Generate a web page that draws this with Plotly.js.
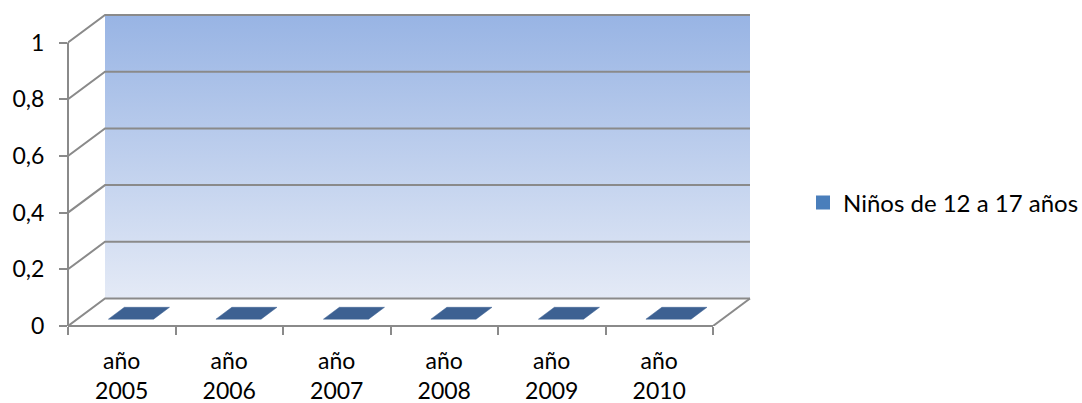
<!DOCTYPE html>
<html><head><meta charset="utf-8">
<script src="https://cdn.plot.ly/plotly-3.0.1.min.js"></script>
<style>html,body{margin:0;padding:0;background:#fff}#chart{width:1082px;height:403px}</style>
</head><body><div id="chart"></div>
<script>
// ---- data ----
const categories = ['año 2005', 'año 2006', 'año 2007', 'año 2008', 'año 2009', 'año 2010'];
const tickLabels = ['año<br>2005', 'año<br>2006', 'año<br>2007', 'año<br>2008', 'año<br>2009', 'año<br>2010'];
const seriesName = 'Niños de 12 a 17 años';
const values = [0, 0, 0, 0, 0, 0];
const yTickVals = [0, 0.2, 0.4, 0.6, 0.8, 1];

// ---- geometry (pixels) ----
const W = 1082, H = 403;
const plotL = 68, plotR = 757, plotT = 10, plotB = 326;
const pxPerCat = 107.5, pxPerUnit = 283.5;
const depthPxX = 37, depthPxY = 27.5;
const dX = depthPxX / pxPerCat, dY = depthPxY / pxPerUnit;
const xMin = -0.5, xMax = -0.5 + (plotR - plotL) / pxPerCat;
const yMin = 0, yMax = (plotB - plotT) / pxPerUnit;
const nCat = categories.length;
const xs = categories.map((c, i) => i);
const yTop = Math.max(...yTickVals);

const gridColor = '#8a8a8a';
const shapes = [];
// gridlines: diagonal on side + horizontal on back wall
yTickVals.forEach(v => {
  shapes.push({type: 'path', xref: 'x', yref: 'y',
    path: `M ${xMin},${v} L ${xMin + dX},${v + dY} L ${nCat - 0.5 + dX},${v + dY}`,
    line: {color: gridColor, width: 2}});
});
// floor front edge and right side
shapes.push({type: 'line', xref: 'x', yref: 'paper', x0: xMin, x1: nCat - 0.5, y0: 0, y1: 0,
  line: {color: gridColor, width: 2}});
shapes.push({type: 'line', xref: 'x', yref: 'y', x0: nCat - 0.5, y0: 0, x1: nCat - 0.5 + dX, y1: dY,
  line: {color: gridColor, width: 2}});
// vertical value axis
shapes.push({type: 'line', xref: 'paper', yref: 'y', x0: 0, x1: 0, y0: 0, y1: yTop,
  line: {color: gridColor, width: 2}});

// back wall
const wall = {
  type: 'scatter', mode: 'lines', hoverinfo: 'skip', showlegend: false,
  x: [xMin + dX, nCat - 0.5 + dX, nCat - 0.5 + dX, xMin + dX, xMin + dX],
  y: [dY, dY, yTop + dY, yTop + dY, dY],
  fill: 'toself', line: {width: 0},
  fillgradient: {type: 'vertical', colorscale: [[0, '#e4eaf6'], [1, '#98b4e4']]}
};

// flat 3D bar tops (value-driven)
const t1 = 0.25, t2 = 0.68, hw = 0.21;
const bx = [], by = [];
xs.forEach((x, i) => {
  const v = values[i];
  const c1 = x + t1 * dX, c2 = x + t2 * dX;
  const y1 = v + t1 * dY, y2 = v + t2 * dY;
  bx.push(c1 - hw, c1 + hw, c2 + hw, c2 - hw, c1 - hw, null);
  by.push(y1, y1, y2, y2, y1, null);
});
const barTops = {
  type: 'scatter', mode: 'lines', hoverinfo: 'skip', showlegend: false,
  x: bx, y: by, fill: 'toself', fillcolor: '#3d6192', line: {width: 0.5, color: '#3d6192'}
};
const legendBar = {
  type: 'bar', name: seriesName, x: xs, y: values,
  marker: {color: '#4a7ebb', line: {color: '#4a7ebb', width: 2}}, showlegend: true
};

const layout = {
  width: W, height: H,
  margin: {l: plotL, r: W - plotR, t: plotT, b: H - plotB},
  paper_bgcolor: '#fff', plot_bgcolor: 'rgba(0,0,0,0)',
  separators: ', ',
  font: {family: 'Lato, "Open Sans", sans-serif', size: 23, color: '#000'},
  showlegend: true,
  legend: {xref: 'container', yref: 'container', x: 803 / W, y: 1 - 203 / H,
    xanchor: 'left', yanchor: 'middle', font: {size: 24}, bgcolor: 'rgba(0,0,0,0)'},
  xaxis: {type: 'linear', range: [xMin, xMax], showgrid: false, zeroline: false, showline: false,
    tickvals: xs, ticktext: tickLabels, ticks: '', ticklabelstandoff: 19,
    minor: {tickvals: Array.from({length: nCat + 1}, (_, i) => i - 0.5), ticks: 'outside',
      ticklen: 8, tickwidth: 2, tickcolor: gridColor, showgrid: false},
    fixedrange: true},
  yaxis: {range: [yMin, yMax], showgrid: false, zeroline: false, showline: false,
    tickvals: yTickVals, ticks: 'outside', ticklen: 8, tickwidth: 2, tickcolor: gridColor,
    ticklabelstandoff: 10, fixedrange: true},
  shapes: shapes
};
Plotly.newPlot('chart', [wall, barTops, legendBar], layout, {staticPlot: true, displayModeBar: false});
</script></body></html>
